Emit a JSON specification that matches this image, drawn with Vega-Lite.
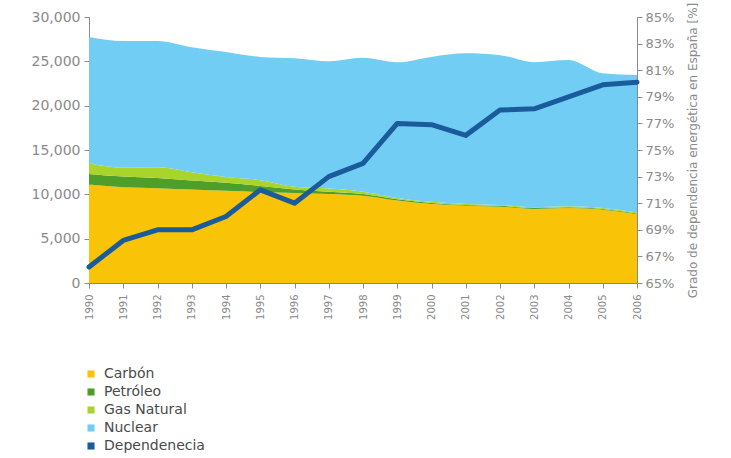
{
  "$schema": "https://vega.github.io/schema/vega-lite/v6.json",
  "width": 548,
  "height": 266,
  "autosize": {"type": "none"},
  "padding": {"left": 89, "top": 17, "right": 94, "bottom": 175},
  "background": "white",
  "config": {
    "view": {"stroke": null},
    "axis": {"grid": false, "labelFont": "DejaVu Sans", "titleFont": "DejaVu Sans", "labelColor": "#8a8a8a", "titleColor": "#8a8a8a", "domainColor": "#8c8c8c", "tickColor": "#8c8c8c"}
  },
  "datasets": {
    "prod": [
      {"year": 1990, "serie": "Carbón", "o": 1, "v": 11100}, {"year": 1990, "serie": "Petróleo", "o": 2, "v": 1200}, {"year": 1990, "serie": "Gas Natural", "o": 3, "v": 1200}, {"year": 1990, "serie": "Nuclear", "o": 4, "v": 14250},
      {"year": 1991, "serie": "Carbón", "o": 1, "v": 10800}, {"year": 1991, "serie": "Petróleo", "o": 2, "v": 1200}, {"year": 1991, "serie": "Gas Natural", "o": 3, "v": 1000}, {"year": 1991, "serie": "Nuclear", "o": 4, "v": 14300},
      {"year": 1992, "serie": "Carbón", "o": 1, "v": 10700}, {"year": 1992, "serie": "Petróleo", "o": 2, "v": 1150}, {"year": 1992, "serie": "Gas Natural", "o": 3, "v": 1200}, {"year": 1992, "serie": "Nuclear", "o": 4, "v": 14250},
      {"year": 1993, "serie": "Carbón", "o": 1, "v": 10550}, {"year": 1993, "serie": "Petróleo", "o": 2, "v": 1000}, {"year": 1993, "serie": "Gas Natural", "o": 3, "v": 950}, {"year": 1993, "serie": "Nuclear", "o": 4, "v": 14100},
      {"year": 1994, "serie": "Carbón", "o": 1, "v": 10400}, {"year": 1994, "serie": "Petróleo", "o": 2, "v": 900}, {"year": 1994, "serie": "Gas Natural", "o": 3, "v": 650}, {"year": 1994, "serie": "Nuclear", "o": 4, "v": 14100},
      {"year": 1995, "serie": "Carbón", "o": 1, "v": 10250}, {"year": 1995, "serie": "Petróleo", "o": 2, "v": 700}, {"year": 1995, "serie": "Gas Natural", "o": 3, "v": 650}, {"year": 1995, "serie": "Nuclear", "o": 4, "v": 13900},
      {"year": 1996, "serie": "Carbón", "o": 1, "v": 10150}, {"year": 1996, "serie": "Petróleo", "o": 2, "v": 400}, {"year": 1996, "serie": "Gas Natural", "o": 3, "v": 300}, {"year": 1996, "serie": "Nuclear", "o": 4, "v": 14500},
      {"year": 1997, "serie": "Carbón", "o": 1, "v": 10050}, {"year": 1997, "serie": "Petróleo", "o": 2, "v": 250}, {"year": 1997, "serie": "Gas Natural", "o": 3, "v": 350}, {"year": 1997, "serie": "Nuclear", "o": 4, "v": 14350},
      {"year": 1998, "serie": "Carbón", "o": 1, "v": 9850}, {"year": 1998, "serie": "Petróleo", "o": 2, "v": 200}, {"year": 1998, "serie": "Gas Natural", "o": 3, "v": 250}, {"year": 1998, "serie": "Nuclear", "o": 4, "v": 15100},
      {"year": 1999, "serie": "Carbón", "o": 1, "v": 9300}, {"year": 1999, "serie": "Petróleo", "o": 2, "v": 150}, {"year": 1999, "serie": "Gas Natural", "o": 3, "v": 150}, {"year": 1999, "serie": "Nuclear", "o": 4, "v": 15300},
      {"year": 2000, "serie": "Carbón", "o": 1, "v": 8900}, {"year": 2000, "serie": "Petróleo", "o": 2, "v": 120}, {"year": 2000, "serie": "Gas Natural", "o": 3, "v": 130}, {"year": 2000, "serie": "Nuclear", "o": 4, "v": 16350},
      {"year": 2001, "serie": "Carbón", "o": 1, "v": 8700}, {"year": 2001, "serie": "Petróleo", "o": 2, "v": 100}, {"year": 2001, "serie": "Gas Natural", "o": 3, "v": 100}, {"year": 2001, "serie": "Nuclear", "o": 4, "v": 17000},
      {"year": 2002, "serie": "Carbón", "o": 1, "v": 8600}, {"year": 2002, "serie": "Petróleo", "o": 2, "v": 100}, {"year": 2002, "serie": "Gas Natural", "o": 3, "v": 100}, {"year": 2002, "serie": "Nuclear", "o": 4, "v": 16900},
      {"year": 2003, "serie": "Carbón", "o": 1, "v": 8350}, {"year": 2003, "serie": "Petróleo", "o": 2, "v": 100}, {"year": 2003, "serie": "Gas Natural", "o": 3, "v": 100}, {"year": 2003, "serie": "Nuclear", "o": 4, "v": 16350},
      {"year": 2004, "serie": "Carbón", "o": 1, "v": 8450}, {"year": 2004, "serie": "Petróleo", "o": 2, "v": 100}, {"year": 2004, "serie": "Gas Natural", "o": 3, "v": 100}, {"year": 2004, "serie": "Nuclear", "o": 4, "v": 16500},
      {"year": 2005, "serie": "Carbón", "o": 1, "v": 8250}, {"year": 2005, "serie": "Petróleo", "o": 2, "v": 100}, {"year": 2005, "serie": "Gas Natural", "o": 3, "v": 100}, {"year": 2005, "serie": "Nuclear", "o": 4, "v": 15200},
      {"year": 2006, "serie": "Carbón", "o": 1, "v": 7750}, {"year": 2006, "serie": "Petróleo", "o": 2, "v": 100}, {"year": 2006, "serie": "Gas Natural", "o": 3, "v": 100}, {"year": 2006, "serie": "Nuclear", "o": 4, "v": 15500}
    ],
    "dep": [
      {"year": 1990, "dep": 66.2}, {"year": 1991, "dep": 68.2}, {"year": 1992, "dep": 69.0}, {"year": 1993, "dep": 69.0},
      {"year": 1994, "dep": 70.0}, {"year": 1995, "dep": 72.0}, {"year": 1996, "dep": 71.0}, {"year": 1997, "dep": 73.0},
      {"year": 1998, "dep": 74.0}, {"year": 1999, "dep": 77.0}, {"year": 2000, "dep": 76.9}, {"year": 2001, "dep": 76.1},
      {"year": 2002, "dep": 78.0}, {"year": 2003, "dep": 78.1}, {"year": 2004, "dep": 79.0}, {"year": 2005, "dep": 79.9},
      {"year": 2006, "dep": 80.1}
    ]
  },
  "layer": [
    {
      "data": {"name": "prod"},
      "mark": {"type": "area", "interpolate": "monotone"},
      "encoding": {
        "x": {"field": "year", "type": "ordinal", "scale": {"type": "point", "padding": 0},
          "axis": {"labelAngle": -90, "labelFontSize": 10, "labelPadding": 6, "labelOverlap": false, "tickSize": 5, "title": null, "domainColor": "#9a8a3a"}},
        "y": {"field": "v", "type": "quantitative", "stack": "zero", "scale": {"domain": [0, 30000], "nice": false},
          "axis": {"values": [0,5000,10000,15000,20000,25000,30000], "format": ",d", "labelFontSize": 14, "tickSize": 5, "labelPadding": 4, "title": null}},
        "order": {"field": "o", "type": "quantitative"},
        "color": {"field": "serie", "type": "nominal",
          "scale": {"domain": ["Carbón", "Petróleo", "Gas Natural", "Nuclear", "Dependenecia"], "range": ["#f9c408", "#4f9e2a", "#a9d42c", "#72cdf4", "#1a5b9b"]},
          "legend": {"title": null, "orient": "none", "legendX": -5, "legendY": 350, "symbolType": "square", "symbolSize": 50, "symbolStrokeWidth": 0, "labelFont": "DejaVu Sans", "labelFontSize": 14, "labelColor": "#4a4a4a", "rowPadding": 4, "labelOffset": 6}}
      }
    },
    {
      "data": {"name": "dep"},
      "mark": {"type": "line", "strokeWidth": 5, "strokeJoin": "round", "strokeCap": "round"},
      "encoding": {
        "x": {"field": "year", "type": "ordinal"},
        "y": {"field": "dep", "type": "quantitative", "scale": {"domain": [65, 85], "nice": false, "zero": false},
          "axis": {"orient": "right", "values": [65,67,69,71,73,75,77,79,81,83,85], "labelExpr": "datum.value + '%'", "labelFontSize": 13, "tickSize": 5, "labelPadding": 3,
            "title": "Grado de dependencia energética en España [%]", "titleAngle": -90, "titleFontSize": 12, "titleFontWeight": "normal", "titlePadding": 26}},
        "color": {"datum": "Dependenecia"}
      }
    }
  ],
  "resolve": {"scale": {"y": "independent"}}
}
